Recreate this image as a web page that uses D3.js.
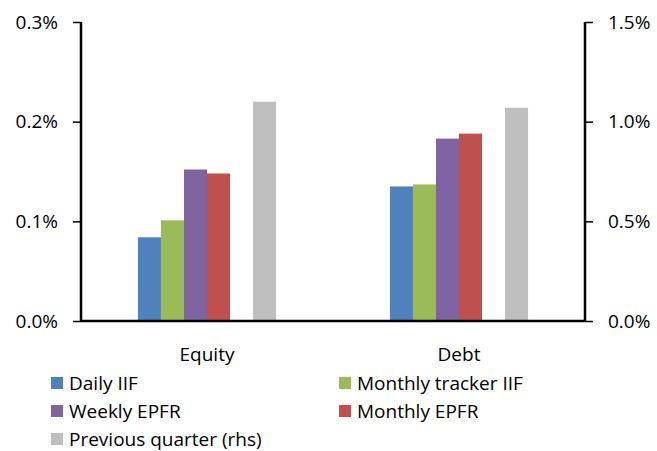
<!DOCTYPE html>
<html>
<head>
<meta charset="utf-8">
<script src="https://cdn.jsdelivr.net/npm/d3@7"></script>
<style>
  body { margin: 0; background: #fff; }
  text { font-family: "Open Sans", "Noto Sans", sans-serif; fill: #000; }
</style>
</head>
<body>
<svg id="chart" width="657" height="451"></svg>
<script>
// data (percent)
const categories = ["Equity", "Debt"];
const dailyIIF = [0.084, 0.135];
const monthlyTrackerIIF = [0.101, 0.137];
const weeklyEPFR = [0.152, 0.183];
const monthlyEPFR = [0.148, 0.188];
const previousQuarter = [1.10, 1.07]; // rhs
const leftTicks = [0, 0.1, 0.2, 0.3];
const rightTicks = [0, 0.5, 1.0, 1.5];

const series = [
    {name: "Daily IIF", values: dailyIIF, color: "#4F81BD", slot: 0, axis: "left"},
    {name: "Monthly tracker IIF", values: monthlyTrackerIIF, color: "#9BBB59", slot: 1, axis: "left"},
    {name: "Weekly EPFR", values: weeklyEPFR, color: "#8064A2", slot: 2, axis: "left"},
    {name: "Monthly EPFR", values: monthlyEPFR, color: "#C0504D", slot: 3, axis: "left"},
    {name: "Previous quarter (rhs)", values: previousQuarter, color: "#BFBFBF", slot: 5, axis: "right"}
];

const svg = d3.select("#chart");
const plotL = 81, plotR = 585, plotT = 22, plotB = 321;
const fontSize = 19;

const x0 = d3.scaleBand().domain(categories).range([plotL, plotR])
    .paddingInner(0.452).paddingOuter(0.226);
const x1 = d3.scaleBand().domain(d3.range(6)).range([0, x0.bandwidth()]);
const yL = d3.scaleLinear().domain([0, 0.3]).range([plotB, plotT]);
const yR = d3.scaleLinear().domain([0, 1.5]).range([plotB, plotT]);

// bars
const bars = svg.append("g");
for (let s of series) {
    const y = s.axis === "left" ? yL : yR;
    bars.selectAll(null)
        .data(categories)
        .enter()
        .append("rect")
        .attr("x", c => x0(c) + x1(s.slot))
        .attr("width", x1.bandwidth())
        .attr("y", (c, i) => y(s.values[i]))
        .attr("height", (c, i) => plotB - y(s.values[i]))
        .attr("fill", s.color);
}

// axes
const fmt = v => v.toFixed(1) + "%";
const axL = svg.append("g").attr("transform", `translate(${plotL},0)`)
    .call(d3.axisLeft(yL).tickValues(leftTicks).tickFormat(fmt).tickSize(8).tickPadding(15));
const axR = svg.append("g").attr("transform", `translate(${plotR},0)`)
    .call(d3.axisRight(yR).tickValues(rightTicks).tickFormat(fmt).tickSize(8).tickPadding(15));
for (let ax of [axL, axR]) {
    ax.select(".domain").remove();
    ax.selectAll("line").attr("stroke", "#000").attr("stroke-width", 1.5);
    ax.selectAll("text").attr("font-size", fontSize).attr("fill", "#000")
        .attr("font-family", "'Open Sans', sans-serif");
}
svg.append("line").attr("x1", plotL).attr("x2", plotL).attr("y1", plotT).attr("y2", plotB + 1)
    .attr("stroke", "#000").attr("stroke-width", 2.5);
svg.append("line").attr("x1", plotR).attr("x2", plotR).attr("y1", plotT).attr("y2", plotB + 1)
    .attr("stroke", "#000").attr("stroke-width", 2.5);
svg.append("line").attr("x1", plotL).attr("x2", plotR).attr("y1", plotB).attr("y2", plotB)
    .attr("stroke", "#000").attr("stroke-width", 2.5);

// category labels
svg.append("g").selectAll("text")
    .data(categories)
    .enter()
    .append("text")
    .attr("x", c => x0(c) + x0.bandwidth() / 2)
    .attr("y", 361)
    .attr("text-anchor", "middle")
    .attr("font-size", fontSize)
    .text(c => c);

// legend
const legendPos = [[51, 383], [339, 383], [51, 411], [339, 411], [51, 439]];
const legend = svg.append("g").selectAll("g")
    .data(series)
    .enter()
    .append("g")
    .attr("transform", (d, i) => `translate(${legendPos[i][0]},${legendPos[i][1]})`);
legend.append("rect").attr("x", 0).attr("y", -6).attr("width", 12).attr("height", 12)
    .attr("fill", d => d.color);
legend.append("text").attr("x", 18).attr("y", 0).attr("dy", "0.35em")
    .attr("font-size", fontSize).text(d => d.name);
</script>
</body>
</html>
